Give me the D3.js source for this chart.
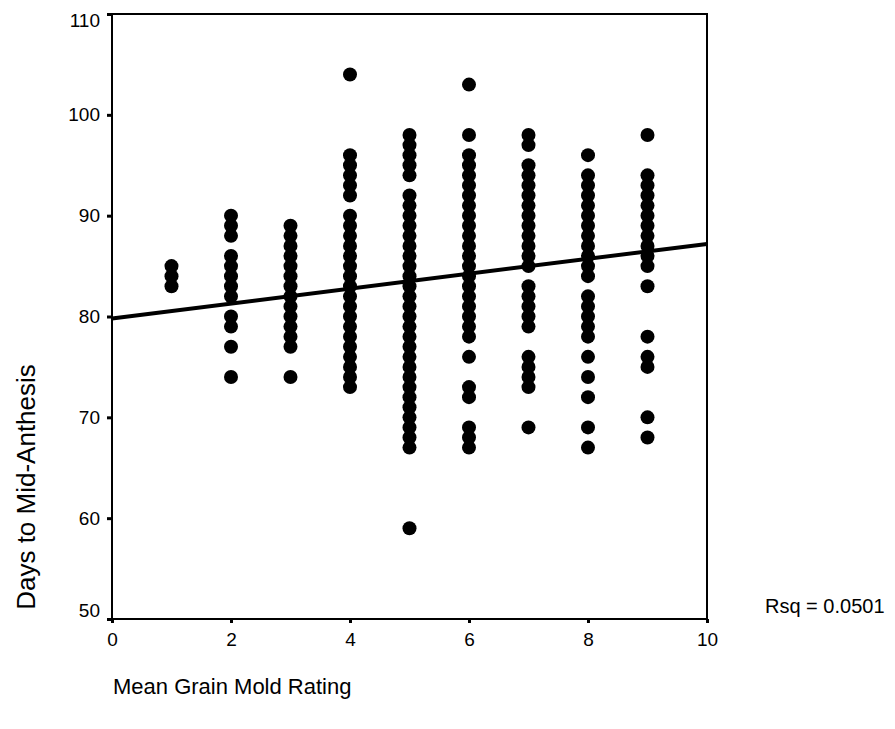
<!DOCTYPE html>
<html>
<head>
<meta charset="utf-8">
<script src="https://cdn.jsdelivr.net/npm/d3@7"></script>
<style>
  body { margin: 0; background: #fff; }
  svg text { font-family: "Liberation Sans", Arial, sans-serif; fill: #000; }
</style>
</head>
<body>
<div id="chart"></div>
<script>
// mean grain mold rating (x) and the days-to-mid-anthesis values plotted at each rating
var ratings = [1, 2, 3, 4, 5, 6, 7, 8, 9];
var daysByRating = [
    [83, 84, 85],
    [74, 77, 79, 80, 82, 83, 84, 85, 86, 88, 89, 90],
    [74, 77, 78, 79, 80, 81, 82, 83, 84, 85, 86, 87, 88, 89],
    [73, 74, 75, 76, 77, 78, 79, 80, 81, 82, 83, 84, 85, 86, 87, 88, 89, 90, 92, 93, 94, 95, 96, 104],
    [59, 67, 68, 69, 70, 71, 72, 73, 74, 75, 76, 77, 78, 79, 80, 81, 82, 83, 84, 85, 86, 87, 88, 89, 90, 91, 92, 94, 95, 96, 97, 98],
    [67, 68, 69, 72, 73, 76, 78, 79, 80, 81, 82, 83, 84, 85, 86, 87, 88, 89, 90, 91, 92, 93, 94, 95, 96, 98, 103],
    [69, 73, 74, 75, 76, 79, 80, 81, 82, 83, 85, 86, 87, 88, 89, 90, 91, 92, 93, 94, 95, 97, 98],
    [67, 69, 72, 74, 76, 78, 79, 80, 81, 82, 84, 85, 86, 87, 88, 89, 90, 91, 92, 93, 94, 96],
    [68, 70, 75, 76, 78, 83, 85, 86, 87, 88, 89, 90, 91, 92, 93, 94, 98]
];
// linear fit: [intercept, slope]
var fitLine = [79.8, 0.74];
var rsqLabel = "Rsq = 0.0501";
var xTicks = [0, 2, 4, 6, 8, 10];
var yTicks = [50, 60, 70, 80, 90, 100, 110];

var width = 895, height = 729;

var svg = d3.select("#chart").append("svg")
    .attr("width", width)
    .attr("height", height);

var x = d3.scaleLinear().domain([0, 10]).range([112, 707]);
var y = d3.scaleLinear().domain([50, 110]).range([619, 14]);

// flatten into points
var points = [];
ratings.forEach(function (r, i) {
    daysByRating[i].forEach(function (d) {
        points.push({rating: r, days: d});
    });
});

// frame around the plot
svg.append("rect")
    .attr("x", x(0))
    .attr("y", y(110))
    .attr("width", x(10) - x(0))
    .attr("height", y(50) - y(110))
    .attr("fill", "none")
    .attr("stroke", "#000")
    .attr("stroke-width", 2);

// axes: only the little square ticks and labels, frame is drawn above
var yAxis = svg.append("g")
    .attr("transform", "translate(" + x(0) + ",0)")
    .call(d3.axisLeft(y).tickValues(yTicks).tickSize(5).tickPadding(7));
var xAxis = svg.append("g")
    .attr("transform", "translate(0," + y(50) + ")")
    .call(d3.axisBottom(x).tickValues(xTicks).tickSize(4).tickPadding(10));

[xAxis, yAxis].forEach(function (ax) {
    ax.select(".domain").remove();
    ax.selectAll(".tick line").attr("stroke", "#000").attr("stroke-width", 3);
    ax.selectAll(".tick text")
        .style("font-family", "'Liberation Sans', Arial, sans-serif")
        .style("font-size", "19px");
});

// end labels are nudged inside the frame, the way the original output does it
yAxis.selectAll(".tick text")
    .attr("y", function (d) {
        if (d === 110) return 6;
        if (d === 50) return -9;
        return 0;
    });

// points
svg.append("g")
    .selectAll("circle")
    .data(points)
    .enter()
    .append("circle")
    .attr("cx", function (d) { return x(d.rating); })
    .attr("cy", function (d) { return y(d.days); })
    .attr("r", 7)
    .attr("fill", "#000");

// fit line
svg.append("line")
    .attr("x1", x(0))
    .attr("y1", y(fitLine[0]))
    .attr("x2", x(10))
    .attr("y2", y(fitLine[0] + fitLine[1] * 10))
    .attr("stroke", "#000")
    .attr("stroke-width", 4);

svg.append("text")
    .attr("x", 765)
    .attr("y", 613)
    .style("font-size", "20px")
    .text(rsqLabel);

// axis titles
svg.append("text")
    .attr("x", 113)
    .attr("y", 694)
    .style("font-size", "22px")
    .text("Mean Grain Mold Rating");

svg.append("text")
    .attr("transform", "translate(35,487) rotate(-90)")
    .style("text-anchor", "middle")
    .style("font-size", "26px")
    .text("Days to Mid-Anthesis");
</script>
</body>
</html>
